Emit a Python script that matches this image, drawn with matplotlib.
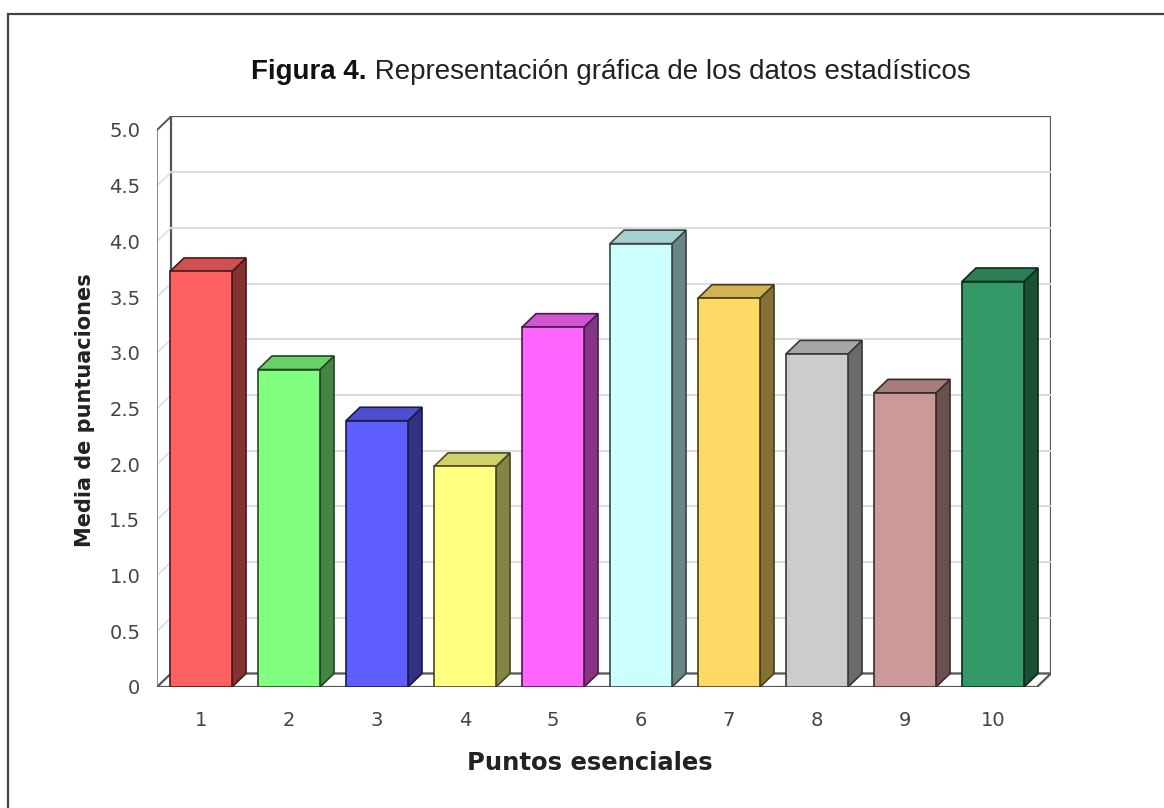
import matplotlib
matplotlib.use("Agg")
import matplotlib.pyplot as plt
from matplotlib.patches import Polygon, Rectangle
from matplotlib.colors import to_rgb
import numpy as np

# ---- data ----
categories = ["1", "2", "3", "4", "5", "6", "7", "8", "9", "10"]
values = [3.73, 2.85, 2.39, 1.98, 3.23, 3.98, 3.49, 2.99, 2.64, 3.64]
bar_colors = ["#FF6161", "#80FF80", "#5F5FFF", "#FFFF80", "#FF66FF",
              "#CCFFFF", "#FFD966", "#CCCCCC", "#CC9999", "#339966"]
y_ticks = [0, 0.5, 1.0, 1.5, 2.0, 2.5, 3.0, 3.5, 4.0, 4.5, 5.0]
y_tick_labels = ["0", "0.5", "1.0", "1.5", "2.0", "2.5", "3.0", "3.5", "4.0", "4.5", "5.0"]
title_bold = "Figura 4."
title_rest = " Representación gráfica de los datos estadísticos"
xlabel = "Puntos esenciales"
ylabel = "Media de puntuaciones"

W, H = 1164, 808
fig = plt.figure(figsize=(W / 100, H / 100), dpi=100)
fig.patch.set_facecolor("white")

# depth of the pseudo-3D effect in data units
DX = 14 / 88.0
DY = 13.5 / 111.4
YMAX = 5.0
n = len(categories)

left_px, right_px = 157, 157 + 88 * (n + DX)
bottom_px, top_px = 687, 687 - 111.4 * (YMAX + DY)
ax = fig.add_axes([left_px / W, (H - bottom_px) / H,
                   (right_px - left_px) / W, (bottom_px - top_px) / H])
ax.set_xlim(0.5, n + 0.5 + DX)
ax.set_ylim(0, YMAX + DY)
for s in ax.spines.values():
    s.set_visible(False)
ax.patch.set_alpha(0)

x0, x1 = 0.5, n + 0.5
grid_c = "#D9D9D9"
frame_c = "#555555"

# back wall
ax.add_patch(Rectangle((x0 + DX, DY), x1 - x0, YMAX, facecolor="white",
                       edgecolor=frame_c, lw=1.6, zorder=1))
for v in y_ticks[1:-1]:
    ax.plot([x0 + DX, x1 + DX], [v + DY, v + DY], color=grid_c, lw=1.3, zorder=2)
    ax.plot([x0, x0 + DX], [v, v + DY], color=grid_c, lw=1.0, zorder=2)
# left wall edges
ax.plot([x0, x0], [0, YMAX], color="#777777", lw=1.2, zorder=2)
ax.plot([x0, x0 + DX], [YMAX, YMAX + DY], color=frame_c, lw=1.4, zorder=2)
# floor
ax.add_patch(Polygon([(x0, 0), (x1, 0), (x1 + DX, DY), (x0 + DX, DY)],
                     closed=True, facecolor="white", edgecolor=frame_c, lw=1.6, zorder=2))

# bars
bw = 0.705
for i, (v, c) in enumerate(zip(values, bar_colors)):
    xc = i + 1
    base = np.array(to_rgb(c))
    front = base
    top = base * 0.82
    side = base * 0.52
    edge = base * 0.28
    l, r = xc - bw / 2, xc + bw / 2
    ax.add_patch(Polygon([(r, 0), (r + DX, DY), (r + DX, v + DY), (r, v)], closed=True,
                         facecolor=side, edgecolor=edge, lw=1.2, zorder=3))
    ax.add_patch(Polygon([(l, v), (r, v), (r + DX, v + DY), (l + DX, v + DY)], closed=True,
                         facecolor=top, edgecolor=edge, lw=1.2, zorder=3))
    ax.add_patch(Rectangle((l, 0), bw, v, facecolor=front, edgecolor=edge, lw=1.2, zorder=4))

ax.set_yticks(y_ticks)
ax.set_yticklabels(y_tick_labels)
ax.set_xticks(range(1, n + 1))
ax.set_xticklabels(categories)
ax.tick_params(axis="both", length=0, labelsize=14, labelcolor="#444444")
ax.tick_params(axis="y", pad=12)
ax.tick_params(axis="x", pad=17)
for t in ax.get_xticklabels() + ax.get_yticklabels():
    t.set_family("DejaVu Sans")

fig.text(85 / W, 1 - 410 / H, ylabel, rotation=90, ha="center", va="center",
         fontsize=15, fontweight="bold", color="#222222", family="DejaVu Sans")
fig.text(590 / W, 1 - 763 / H, xlabel, ha="center", va="center",
         fontsize=17.5, fontweight="bold", color="#222222", family="DejaVu Sans")

# title: bold part + regular part, centred together
ty = 1 - 72 / H
t1 = fig.text(0, ty, title_bold, fontsize=20, fontweight="bold", color="#111111",
              family="Liberation Sans", va="center")
t2 = fig.text(0, ty, title_rest, fontsize=20, color="#222222",
              family="Liberation Sans", va="center")
fig.canvas.draw()
r = fig.canvas.get_renderer()
w1 = t1.get_window_extent(r).width
w2 = t2.get_window_extent(r).width
start = 611 - (w1 + w2) / 2
t1.set_x(start / W)
t2.set_x((start + w1) / W)

# outer frame (clipped at right/bottom like the reference)
fig.add_artist(Rectangle((8 / W, -0.02), 1.05, 1 - 14 / H + 0.02, transform=fig.transFigure,
                         fill=False, edgecolor="#444444", lw=1.6))

fig.savefig("out.png", dpi=100, facecolor="white")
